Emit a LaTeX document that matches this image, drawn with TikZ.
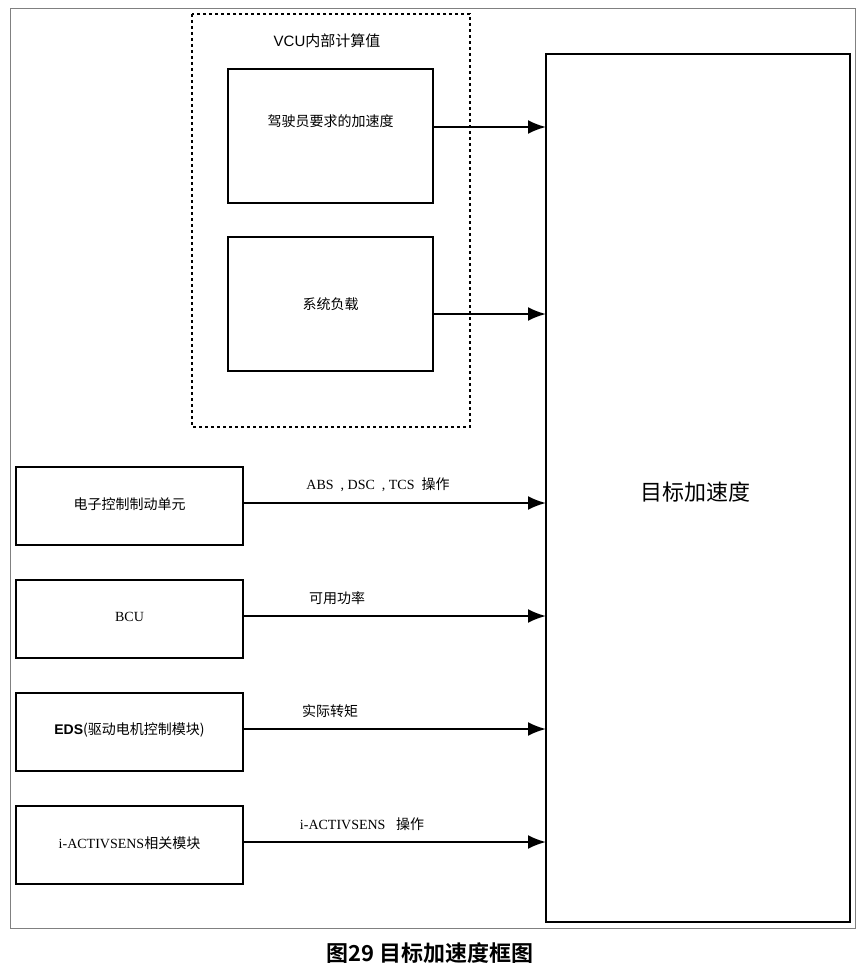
\documentclass[tikz,border=0pt]{standalone}
\usepackage{fontspec}
\setmainfont{Liberation Serif}
\newfontfamily\cjk{Noto Sans CJK SC}
\newfontfamily\cjkb{Noto Sans CJK SC Bold}
\usetikzlibrary{arrows.meta}
\begin{document}
\begin{tikzpicture}[x=1pt,y=-1pt,
  bx/.style={draw,line width=2pt},
  arr/.style={line width=2.2pt,-{Latex[length=18pt,width=14pt]}},
  lb/.style={font=\fontsize{14}{16}\selectfont},
  sm/.style={font=\fontsize{15}{18}\selectfont}]
\useasboundingbox (0,0) rectangle (860,974);
\fill[white] (0,0) rectangle (860,974);
\draw[gray,line width=0.8pt] (10,8) rectangle (855,928);
\draw[dashed,line width=1.6pt] (192,14) rectangle (470,427);
\node[sm] (vt) at (327,41) {\fontspec{Liberation Sans}VCU\cjk 内部计算值};
\draw[bx] (228,69) rectangle (433,203); \node[lb] (b1) at (330.5,121) {\cjk 驾驶员要求的加速度};
\draw[bx] (228,237) rectangle (433,371); \node[lb] (b2) at (330.5,304) {\cjk 系统负载};
\draw[bx] (546,54) rectangle (850,922);
\node[font=\fontsize{22}{26}\selectfont\cjk] (tg) at (695,492) {目标加速度};
\coordinate (t1) at (546,127); \coordinate (s1) at (433,127);
\coordinate (t2) at (546,314); \coordinate (s2) at (433,314);
\draw[arr] (s1) -- (t1); \draw[arr] (s2) -- (t2);
\foreach \y/\t/\l/\lx in {467/{\cjk 电子控制制动单元}/{ABS\ \ , DSC\ \ , TCS\ \ \cjk 操作}/378,
  580/BCU/{\cjk 可用功率}/337,
  693/{\fontspec{Liberation Sans}\bfseries EDS\normalfont\cjk(驱动电机控制模块)}/{\cjk 实际转矩}/330,
  806/{i-ACTIVSENS\cjk 相关模块}/{i-ACTIVSENS\ \ \ \cjk 操作}/362}{
  \draw[bx] (16,\y) rectangle (243,\y+78);
  \node[lb] at (129.5,\y+37) {\t};
  \coordinate (a) at (243,\y+36); \coordinate (b) at (546,\y+36);
  \draw[arr] (a) -- (b);
  \node[lb] at (\lx,\y+18) {\l};
}
\node[font=\fontsize{22}{26}\selectfont\cjkb] (cap) at (430,953) {图29 目标加速度框图};
\end{tikzpicture}
\end{document}
